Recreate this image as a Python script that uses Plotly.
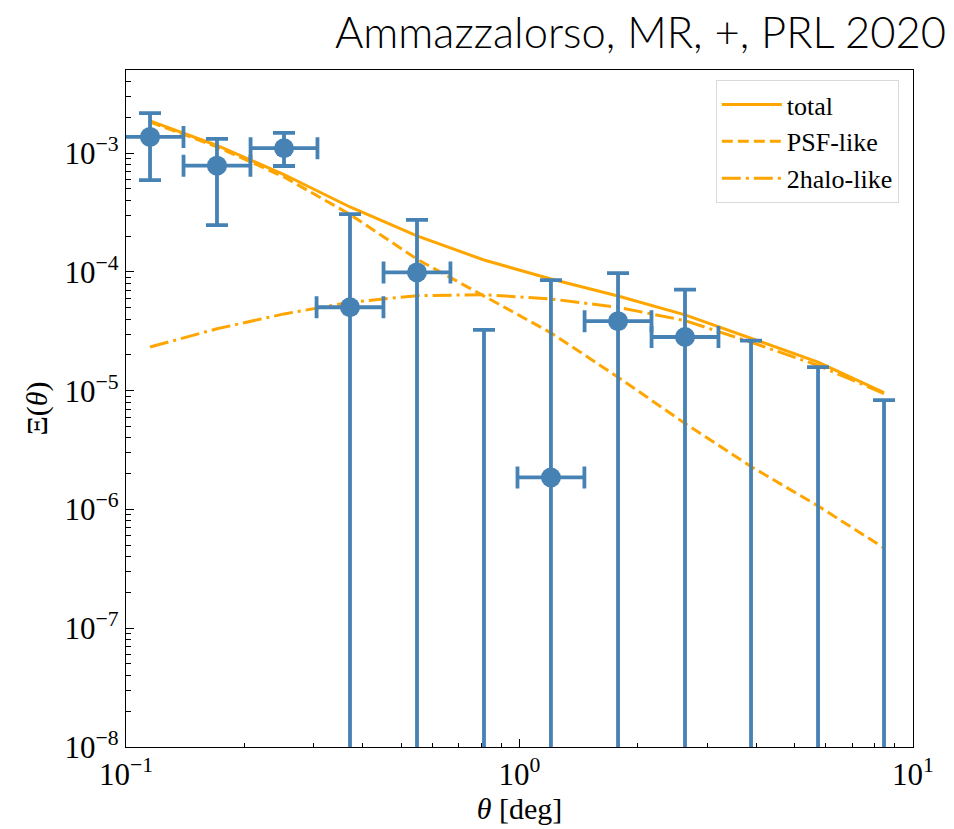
import numpy as np
import plotly.graph_objects as go

# Angular bins (deg)
theta = [0.1151, 0.1703, 0.2521, 0.3709, 0.5489, 0.8124,
         1.202, 1.780, 2.634, 3.876, 5.737, 8.44]

# Measured points with positive central value
theta_pts = [0.1151, 0.1703, 0.2521, 0.3709, 0.5489, 1.202, 1.780, 2.634]
xi_pts = [1.37e-3, 7.85e-4, 1.10e-3, 5.04e-5, 9.9e-5, 1.86e-6, 3.85e-5, 2.83e-5]
xi_hi = [2.17e-3, 1.32e-3, 1.48e-3, 3.06e-4, 2.74e-4, 8.53e-5, 9.77e-5, 7.08e-5]
xi_lo = [5.92e-4, 2.48e-4, 7.79e-4, 0.0, 0.0, 0.0, 0.0, 0.0]

# Bins with non-positive central value: only the upper end of the error bar
theta_ul = [0.8124, 3.876, 5.737, 8.44]
xi_ul = [3.25e-5, 2.64e-5, 1.58e-5, 8.32e-6]

# Model curves
total = [1.87e-3, 1.16e-3, 6.61e-4, 3.52e-4, 2.01e-4, 1.26e-4,
         8.71e-5, 6.27e-5, 4.35e-5, 2.74e-5, 1.74e-5, 9.64e-6]
psf_like = [1.83e-3, 1.13e-3, 6.3e-4, 3.05e-4, 1.28e-4, 6.24e-5,
            3.07e-5, 1.3e-5, 5.3e-6, 2.3e-6, 1.07e-6, 4.74e-7]
halo2_like = [2.33e-5, 3.32e-5, 4.43e-5, 5.55e-5, 6.31e-5, 6.43e-5,
              5.92e-5, 5.04e-5, 3.89e-5, 2.56e-5, 1.63e-5, 9.46e-6]

# Tick labels
x_tick_vals = [0.1, 1, 10]
x_tick_text = ["10<sup>−1</sup>", "10<sup>0</sup>", "10<sup>1</sup>"]
y_tick_vals = [1e-8, 1e-7, 1e-6, 1e-5, 1e-4, 1e-3]
y_tick_text = ["10<sup>−8</sup>", "10<sup>−7</sup>", "10<sup>−6</sup>",
               "10<sup>−5</sup>", "10<sup>−4</sup>", "10<sup>−3</sup>"]

# Half bin width in log10 units
half_bin = 0.085

X_RANGE = [-1, 1]
Y_RANGE = [-8, -2.3]

ORANGE = "#FFA500"
BLUE = "#4682B4"
SERIF = "Liberation Serif, DejaVu Serif, serif"


def minor_positions(lo_exp, hi_exp):
    return [m * 10.0 ** e for e in range(lo_exp, hi_exp) for m in range(2, 10)]


fig = go.Figure()

for name, ys, dash in [("total", total, "solid"),
                       ("PSF-like", psf_like, "11px,5px"),
                       ("2halo-like", halo2_like, "19px,5px,3px,5px")]:
    fig.add_trace(go.Scatter(x=theta, y=ys, mode="lines", name=name,
                             line=dict(color=ORANGE, width=3, dash=dash)))

tp = np.array(theta_pts)
yp = np.array(xi_pts)
x_minus = tp - tp * 10 ** (-half_bin)
x_plus = tp * 10 ** half_bin - tp
y_plus = np.array(xi_hi) - yp
y_minus = [y - lo if lo > 0 else y for y, lo in zip(xi_pts, xi_lo)]

fig.add_trace(go.Scatter(
    x=theta_pts, y=xi_pts, mode="markers", showlegend=False,
    marker=dict(color=BLUE, size=20),
    error_x=dict(type="data", symmetric=False, array=x_plus, arrayminus=x_minus,
                 color=BLUE, thickness=3.8, width=11),
    error_y=dict(type="data", symmetric=False, array=y_plus, arrayminus=y_minus,
                 color=BLUE, thickness=3.8, width=11),
))

fig.add_trace(go.Scatter(
    x=theta_ul, y=xi_ul, mode="markers", showlegend=False,
    marker=dict(color="rgba(0,0,0,0)", size=1),
    error_y=dict(type="data", symmetric=False, array=[0] * len(xi_ul),
                 arrayminus=xi_ul, color=BLUE, thickness=3.8, width=11),
))

# Invisible trace that anchors the overlay axes carrying the minor ticks
fig.add_trace(go.Scatter(x=[0.5], y=[1e-5], xaxis="x2", yaxis="y2", mode="markers",
                         marker=dict(color="rgba(0,0,0,0)", size=1),
                         showlegend=False, hoverinfo="skip"))

axis_common = dict(
    type="log", showgrid=False, zeroline=False,
    showline=True, linecolor="black", linewidth=1.2, mirror=True,
    ticks="inside", ticklen=8, tickwidth=1.3, tickcolor="black",
    tickmode="array",
    tickfont=dict(family=SERIF, size=31, color="black"),
)

minor_common = dict(
    type="log", showgrid=False, zeroline=False, showline=False,
    ticks="inside", ticklen=4.5, tickwidth=1.2, tickcolor="black",
    tickmode="array", showticklabels=False,
)

fig.update_layout(
    xaxis=dict(range=X_RANGE, tickvals=x_tick_vals, ticktext=x_tick_text,
               title=dict(text="<i>θ</i> [deg]", standoff=4,
                          font=dict(family=SERIF, size=30, color="black")),
               **axis_common),
    yaxis=dict(range=Y_RANGE, tickvals=y_tick_vals, ticktext=y_tick_text,
               title=dict(text="Ξ(<i>θ</i>)", standoff=8,
                          font=dict(family=SERIF, size=30, color="black")),
               **axis_common),
    xaxis2=dict(range=X_RANGE, overlaying="x", anchor="y2", side="bottom",
                tickvals=minor_positions(-1, 1), **minor_common),
    yaxis2=dict(range=Y_RANGE, overlaying="y", anchor="x2", side="left",
                tickvals=minor_positions(-8, -2), **minor_common),
)

fig.update_layout(
    width=954, height=829,
    margin=dict(l=126, r=41, t=70, b=79),
    paper_bgcolor="white", plot_bgcolor="white",
    title=dict(text="Ammazzalorso, MR, +, PRL 2020", xref="container", yref="container",
               x=946 / 954, xanchor="right", y=1 - 33 / 829, yanchor="middle",
               font=dict(family="Lato, Open Sans, sans-serif", size=43.5, color="black", weight=300)),
    legend=dict(x=0.982, xanchor="right", y=0.985, yanchor="top",
                bgcolor="white", bordercolor="#d9d9d9", borderwidth=1,
                font=dict(family=SERIF, size=26, color="black"),
                itemwidth=60, tracegroupgap=4),
)

fig.write_html("out.html")
